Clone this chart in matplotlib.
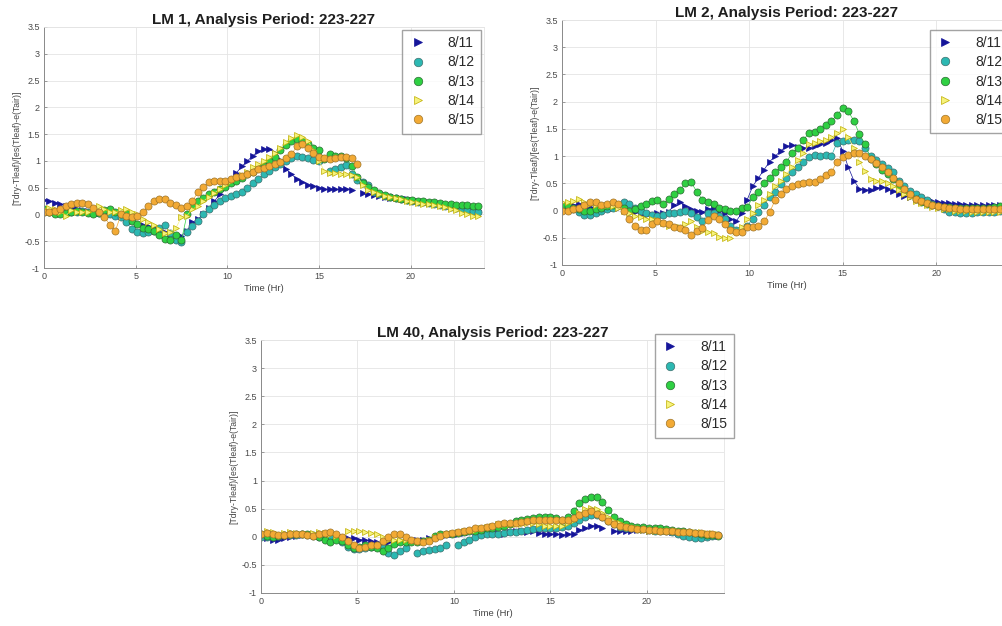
import numpy as np
import matplotlib
matplotlib.use("Agg")
import matplotlib.pyplot as plt

plt.rcParams['font.family'] = ['Liberation Sans', 'DejaVu Sans']
plt.rcParams['axes.unicode_minus'] = False

nan = np.nan

# sampling grid (hours), 0.3 h steps
hours = np.round(np.arange(80) * 0.3, 1)
dates = ['8/11', '8/12', '8/13', '8/14', '8/15']

# ---- LM 1 ----
lm1_811 = [0.27, 0.25, 0.22, 0.20, 0.15, 0.12, 0.10, 0.08, 0.06, 0.05,
           0.03, 0.02, 0.00, 0.00, -0.03, -0.07, -0.12, -0.17, -0.20, -0.22,
           -0.25, -0.30, -0.33, -0.38, -0.42, -0.40, -0.30, -0.15, -0.08, 0.00,
           0.12, 0.25, 0.38, 0.50, 0.62, 0.78, 0.90, 1.00, 1.10, 1.18,
           1.22, 1.22, 1.15, 1.02, 0.85, 0.75, 0.66, 0.60, 0.55, 0.53,
           0.50, 0.47, 0.47, 0.47, 0.47, 0.48, 0.46, nan, 0.40, 0.38,
           0.37, 0.35, 0.33, 0.31, 0.30, 0.29, 0.28, 0.27, 0.25, 0.24,
           0.22, 0.21, 0.20, 0.18, 0.17, 0.15, 0.13, 0.12, 0.10, 0.08]
lm1_812 = [0.05, 0.05, 0.04, 0.05, 0.06, 0.05, 0.05, 0.06, 0.05, 0.04,
           0.02, 0.00, 0.00, -0.03, -0.05, -0.15, -0.28, -0.33, -0.35, -0.32,
           -0.30, -0.25, -0.20, -0.35, -0.48, -0.52, -0.33, -0.22, -0.12, 0.00,
           0.10, 0.17, 0.25, 0.30, 0.35, 0.38, 0.42, 0.50, 0.58, 0.67,
           0.75, 0.82, 0.88, 0.94, 1.00, 1.06, 1.10, 1.08, 1.05, 1.02,
           1.00, nan, 0.82, 0.84, 0.88, 0.92, 0.75, 0.65, 0.60, 0.55,
           0.42, 0.38, 0.35, 0.32, 0.30, 0.28, 0.27, 0.26, 0.24, 0.23,
           0.22, 0.20, 0.18, 0.16, 0.14, 0.12, 0.10, 0.08, 0.06, 0.05]
lm1_813 = [0.10, 0.05, 0.00, 0.00, 0.02, 0.05, 0.06, 0.05, 0.03, 0.00,
           0.03, 0.08, 0.10, 0.05, 0.00, 0.03, -0.12, -0.18, -0.25, -0.28,
           -0.30, -0.38, -0.45, -0.48, -0.38, -0.48, 0.00, 0.15, 0.25, 0.30,
           0.38, 0.42, 0.48, 0.52, 0.58, 0.62, 0.68, 0.75, 0.80, 0.86,
           0.90, 1.00, 1.08, 1.20, 1.30, 1.37, 1.40, 1.38, 1.31, 1.25,
           1.20, 1.03, 1.12, 1.10, 1.09, 1.05, 0.90, 0.70, 0.58, 0.52,
           0.45, 0.40, 0.36, 0.32, 0.30, 0.28, 0.27, 0.27, 0.26, 0.25,
           0.24, 0.23, 0.22, 0.20, 0.19, 0.18, 0.17, 0.17, 0.16, 0.15]
lm1_814 = [0.10, 0.12, 0.10, 0.05, -0.02, 0.08, 0.05, 0.05, 0.05, 0.10,
           0.15, 0.10, 0.05, 0.05, 0.08, 0.10, 0.05, 0.00, -0.08, -0.15,
           -0.20, -0.28, -0.35, -0.32, -0.25, -0.05, -0.02, 0.10, 0.15, 0.25,
           0.33, 0.40, 0.48, 0.55, 0.62, 0.68, 0.74, 0.80, 0.88, 0.95,
           1.00, 1.08, 1.15, 1.25, 1.35, 1.42, 1.48, 1.45, 1.37, 1.20,
           1.00, 0.81, 0.78, 0.78, 0.76, 0.75, 0.73, 0.70, 0.55, 0.46,
           0.42, 0.38, 0.35, 0.32, 0.30, 0.28, 0.26, 0.24, 0.22, 0.20,
           0.19, 0.17, 0.15, 0.13, 0.10, 0.08, 0.03, 0.00, -0.02, -0.03]
lm1_815 = [0.05, 0.05, 0.06, 0.10, 0.15, 0.20, 0.22, 0.22, 0.20, 0.12,
           0.05, -0.05, -0.20, -0.30, 0.00, -0.02, -0.05, -0.02, 0.05, 0.15,
           0.25, 0.28, 0.28, 0.22, 0.18, 0.12, 0.15, 0.25, 0.42, 0.52,
           0.60, 0.62, 0.62, 0.62, 0.66, 0.69, 0.72, 0.75, 0.80, 0.85,
           0.87, 0.90, 0.94, 0.98, 1.05, 1.12, 1.28, 1.31, 1.25, 1.15,
           1.08, 1.05, 1.03, 1.05, 1.08, 1.08, 1.05, 0.95, nan, nan,
           nan, nan, nan, nan, nan, nan, nan, nan, nan, nan,
           nan, nan, nan, nan, nan, nan, nan, nan, nan, nan]

# ---- LM 2 ----
lm2_811 = [0.05, 0.08, 0.10, 0.12, 0.10, 0.06, 0.05, 0.05, 0.06, 0.05,
           0.05, 0.02, 0.00, -0.03, -0.06, -0.08, -0.08, -0.05, -0.05, -0.02,
           0.10, 0.15, 0.08, 0.02, 0.00, -0.03, 0.02, 0.05, 0.00, -0.05,
           -0.15, -0.20, -0.05, 0.20, 0.45, 0.60, 0.75, 0.90, 1.00, 1.10,
           1.18, 1.20, 1.17, 1.15, 1.15, 1.18, 1.22, 1.25, 1.30, 1.33,
           1.10, 0.80, 0.55, 0.40, 0.38, 0.38, 0.42, 0.43, 0.40, 0.36,
           0.30, 0.27, 0.24, 0.22, 0.20, 0.19, 0.17, 0.15, 0.14, 0.13,
           0.12, 0.12, 0.11, 0.10, 0.10, 0.10, 0.10, 0.10, 0.10, 0.10]
lm2_812 = [0.05, 0.05, 0.03, -0.03, -0.08, -0.08, -0.05, 0.00, 0.03, 0.05,
           0.10, 0.15, 0.12, 0.05, 0.00, -0.05, -0.08, -0.10, -0.08, -0.05,
           -0.05, -0.02, 0.00, -0.05, -0.12, -0.20, -0.05, -0.05, -0.10, -0.15,
           -0.28, -0.35, -0.33, -0.28, -0.15, -0.02, 0.10, 0.25, 0.35, 0.48,
           0.60, 0.70, 0.80, 0.90, 0.98, 1.02, 1.00, 1.02, 1.00, 1.25,
           1.28, 1.30, 1.30, 1.28, 1.15, 1.00, 0.92, 0.85, 0.78, 0.70,
           0.55, 0.45, 0.36, 0.30, 0.25, 0.20, 0.12, 0.08, 0.03, -0.02,
           -0.03, -0.05, -0.05, -0.04, -0.03, -0.03, -0.02, -0.02, 0.00, 0.02]
lm2_813 = [0.10, 0.08, 0.05, 0.02, 0.00, 0.00, 0.02, 0.05, 0.08, 0.10,
           0.10, 0.05, 0.00, 0.03, 0.08, 0.12, 0.18, 0.20, 0.12, 0.22,
           0.30, 0.38, 0.50, 0.52, 0.35, 0.20, 0.15, 0.12, 0.05, 0.02,
           0.00, 0.00, 0.05, 0.06, 0.25, 0.35, 0.50, 0.60, 0.70, 0.80,
           0.90, 1.05, 1.15, 1.30, 1.42, 1.45, 1.50, 1.57, 1.65, 1.75,
           1.88, 1.82, 1.65, 1.40, 1.22, 0.95, 0.85, 0.75, 0.68, 0.58,
           0.45, 0.35, 0.28, 0.22, 0.16, 0.12, 0.10, 0.08, 0.07, 0.06,
           0.05, 0.05, 0.04, 0.05, 0.05, 0.05, 0.05, 0.06, 0.08, 0.10]
lm2_814 = [0.15, 0.15, 0.18, 0.22, 0.15, 0.12, 0.10, 0.10, 0.10, 0.08,
           0.05, 0.00, -0.05, -0.10, -0.12, -0.15, -0.15, -0.18, -0.22, -0.28,
           -0.28, -0.30, -0.25, -0.20, -0.30, -0.38, -0.40, -0.42, -0.48, -0.50,
           -0.50, -0.38, -0.30, -0.15, -0.05, 0.10, 0.20, 0.30, 0.45, 0.55,
           0.68, 0.80, 0.92, 1.05, 1.22, 1.25, 1.28, 1.30, 1.35, 1.42,
           1.50, 1.35, 1.15, 0.90, 0.72, 0.58, 0.55, 0.55, 0.50, 0.45,
           0.38, 0.30, 0.24, 0.18, 0.14, 0.10, 0.07, 0.05, 0.03, 0.02,
           0.00, 0.00, 0.00, -0.02, -0.02, -0.03, -0.03, -0.03, -0.02, 0.00]
lm2_815 = [0.00, 0.00, 0.02, 0.05, 0.10, 0.15, 0.15, 0.10, 0.12, 0.15,
           0.12, 0.00, -0.15, -0.28, -0.35, -0.35, -0.25, -0.20, -0.22, -0.25,
           -0.30, -0.32, -0.35, -0.45, -0.38, -0.32, -0.18, -0.10, -0.15, -0.25,
           -0.35, -0.40, -0.40, -0.30, -0.30, -0.28, -0.20, -0.03, 0.20, 0.30,
           0.40, 0.45, 0.48, 0.50, 0.53, 0.53, 0.58, 0.65, 0.70, 0.90,
           0.98, 1.02, 1.05, 1.05, 1.00, 0.95, 0.88, 0.80, 0.70, 0.60,
           0.50, 0.40, 0.30, 0.22, 0.18, 0.14, 0.10, 0.08, 0.06, 0.05,
           0.04, 0.03, 0.03, 0.02, 0.02, 0.02, 0.02, 0.03, 0.03, 0.05]

# ---- LM 40 ----
lm40_811 = [0.00, -0.02, -0.05, -0.05, -0.02, 0.00, 0.02, 0.03, 0.05, 0.05,
            0.05, 0.03, 0.02, 0.00, 0.00, -0.02, -0.03, -0.05, -0.05, -0.08,
            -0.10, -0.10, -0.10, -0.08, -0.08, -0.06, -0.05, -0.05, -0.05, -0.03,
            0.00, 0.02, 0.04, 0.05, 0.05, 0.06, 0.08, 0.10, 0.10, 0.08,
            0.08, 0.06, 0.05, 0.08, 0.10, 0.10, 0.08, 0.10, 0.07, 0.05,
            0.05, 0.05, 0.04, 0.05, 0.05, 0.12, 0.15, 0.20, 0.20, 0.15,
            nan, 0.10, 0.10, 0.10, 0.10, 0.12, 0.12, 0.10, 0.10, 0.10,
            0.10, 0.08, 0.07, 0.06, 0.05, 0.05, 0.05, 0.04, 0.03, 0.02]
lm40_812 = [0.00, 0.00, 0.00, 0.02, 0.03, 0.03, 0.04, 0.05, 0.04, 0.02,
            0.00, 0.00, 0.00, -0.03, -0.10, -0.18, -0.22, -0.22, -0.20, -0.18,
            -0.15, -0.20, -0.28, -0.33, -0.25, -0.20, nan, -0.28, -0.25, -0.24,
            -0.22, -0.20, -0.15, nan, -0.14, -0.10, -0.05, 0.00, 0.03, 0.05,
            0.05, 0.05, 0.06, 0.08, 0.09, 0.10, 0.12, 0.13, 0.15, 0.15,
            0.15, 0.16, 0.18, 0.20, 0.25, 0.30, 0.35, 0.38, 0.38, 0.35,
            0.28, 0.22, 0.18, 0.15, 0.15, 0.14, 0.13, 0.12, 0.11, 0.10,
            0.10, 0.08, 0.05, 0.02, 0.00, -0.02, -0.02, 0.00, 0.02, 0.03]
lm40_813 = [0.05, 0.02, 0.00, 0.02, 0.04, 0.05, 0.05, 0.05, 0.05, 0.03,
            0.00, -0.05, -0.10, -0.06, -0.08, -0.15, -0.20, -0.18, -0.15, -0.18,
            -0.20, -0.25, -0.20, -0.12, -0.10, -0.10, -0.10, -0.10, -0.08, -0.05,
            0.02, 0.05, 0.05, 0.05, 0.06, 0.08, 0.10, 0.10, 0.12, 0.15,
            0.15, 0.18, 0.20, 0.22, 0.28, 0.30, 0.32, 0.33, 0.35, 0.35,
            0.35, 0.33, 0.30, 0.35, 0.45, 0.60, 0.68, 0.70, 0.70, 0.62,
            0.48, 0.35, 0.28, 0.22, 0.20, 0.18, 0.17, 0.16, 0.15, 0.15,
            0.14, 0.12, 0.10, 0.10, 0.08, 0.06, 0.05, 0.04, 0.03, 0.02]
lm40_814 = [0.08, 0.10, 0.08, 0.05, 0.06, 0.08, 0.06, 0.05, 0.05, 0.06,
            0.08, 0.06, 0.05, 0.02, 0.00, 0.10, 0.10, 0.10, 0.08, 0.06,
            0.05, 0.00, -0.05, -0.05, -0.05, -0.05, -0.05, -0.08, -0.10, -0.05,
            0.00, 0.03, 0.05, 0.06, 0.08, 0.10, 0.10, 0.12, 0.15, 0.18,
            0.20, 0.22, 0.22, 0.22, 0.22, 0.23, 0.25, 0.24, 0.22, 0.20,
            0.20, 0.20, 0.20, 0.25, 0.30, 0.42, 0.50, 0.52, 0.50, 0.42,
            0.35, 0.28, 0.24, 0.20, 0.17, 0.15, 0.12, 0.11, 0.10, 0.10,
            0.10, 0.10, 0.10, 0.09, 0.09, 0.08, 0.08, 0.07, 0.06, 0.05]
lm40_815 = [0.05, 0.06, 0.05, 0.03, 0.04, 0.05, 0.05, 0.05, 0.04, 0.02,
            0.05, 0.07, 0.08, 0.05, 0.00, -0.08, -0.15, -0.20, -0.18, -0.15,
            -0.15, -0.08, 0.00, 0.05, 0.05, 0.00, -0.05, -0.08, -0.10, -0.08,
            -0.02, 0.02, 0.05, 0.06, 0.08, 0.10, 0.12, 0.15, 0.15, 0.18,
            0.20, 0.23, 0.25, 0.25, 0.25, 0.26, 0.28, 0.30, 0.30, 0.30,
            0.30, 0.30, 0.30, 0.30, 0.33, 0.38, 0.42, 0.45, 0.40, 0.35,
            0.28, 0.22, 0.20, 0.17, 0.15, 0.14, 0.13, 0.12, 0.12, 0.11,
            0.10, 0.10, 0.09, 0.08, 0.08, 0.07, 0.06, 0.05, 0.05, 0.04]

# marker, face colour, edge colour, size for each date
styles = [('>', '#15159a', '#15159a', 4.8),
          ('o', '#2cb8b2', '#3d6e6c', 5.1),
          ('o', '#2fd043', '#2b6b33', 5.1),
          ('>', '#f6f27c', '#bfae00', 5.0),
          ('o', '#f2aa35', '#9e7428', 5.1)]

W, H = 1003, 626
fig = plt.figure(figsize=(W / 100, H / 100), dpi=100)
fig.patch.set_facecolor('white')


def px_axes(left, top, right, bottom):
    # axes placed in pixel coordinates of the final image
    return fig.add_axes([left / W, 1 - bottom / H, (right - left) / W, (bottom - top) / H])


def draw(ax, title, series, leg_anchor, leg_loc):
    for lab, vals, (mk, fc, ec, ms) in zip(dates, series, styles):
        ax.plot(hours, vals, ls='-', lw=0.5, color=fc, marker=mk, ms=ms,
                mfc=fc, mec=ec, mew=0.5, label=lab)
    ax.set_xlim(0, 24)
    ax.set_ylim(-1, 3.5)
    ax.set_xticks([0, 5, 10, 15, 20])
    yt = np.arange(-1, 3.51, 0.5)
    ax.set_yticks(yt)
    ax.set_yticklabels(['%g' % v for v in yt])
    ax.grid(True, color='#e4e4e4', lw=0.6)
    ax.set_axisbelow(True)
    for s in ['top', 'right']:
        ax.spines[s].set_color('#e4e4e4')
        ax.spines[s].set_linewidth(0.6)
    for s in ['left', 'bottom']:
        ax.spines[s].set_color('#8a8a8a')
        ax.spines[s].set_linewidth(0.7)
    ax.tick_params(direction='in', length=2.5, width=0.6, colors='#8a8a8a',
                   labelcolor='#4a4a4a', labelsize=6.5, pad=3)
    ax.set_title(title, fontsize=11, fontweight='bold', color='#1e1e1e', pad=2.5)
    ax.set_xlabel('Time (Hr)', fontsize=6.8, color='#444444', labelpad=2)
    ax.set_ylabel('[Tdry-Tleaf)/[es(Tleaf)-e(Tair)]', fontsize=6.2, color='#444444', labelpad=2)
    leg = ax.legend(loc=leg_loc, bbox_to_anchor=leg_anchor, fontsize=10, frameon=True,
                    fancybox=False, edgecolor='#8c8c8c', handlelength=1.3,
                    handletextpad=1.5, labelspacing=0.38, borderpad=0.45,
                    borderaxespad=0, markerscale=1.2)
    leg.get_frame().set_linewidth(1.0)
    for h in leg.legend_handles:
        h.set_linestyle('None')
    for t in leg.get_texts():
        t.set_color('#2a2a2a')


ax1 = px_axes(44, 27, 484, 268)
draw(ax1, 'LM 1, Analysis Period: 223-227',
     [lm1_811, lm1_812, lm1_813, lm1_814, lm1_815], (0.993, 0.988), 'upper right')

ax2 = px_axes(562, 20, 1011, 265)
draw(ax2, 'LM 2, Analysis Period: 223-227',
     [lm2_811, lm2_812, lm2_813, lm2_814, lm2_815], (0.82, 0.96), 'upper left')

ax3 = px_axes(261, 340, 724, 593)
draw(ax3, 'LM 40, Analysis Period: 223-227',
     [lm40_811, lm40_812, lm40_813, lm40_814, lm40_815], (0.851, 1.024), 'upper left')

fig.savefig('out.png', dpi=100, facecolor='white')
